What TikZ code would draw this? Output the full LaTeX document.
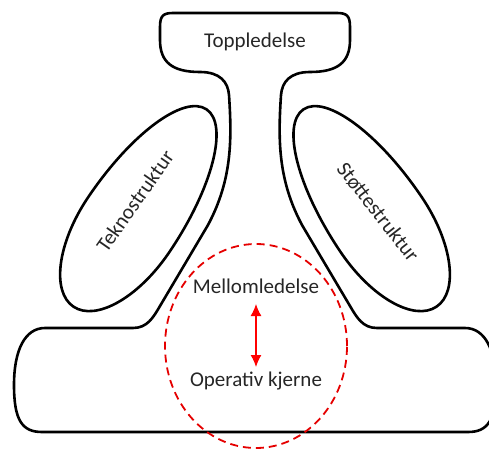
\documentclass[tikz,border=0pt]{standalone}
\usepackage{fontspec}
\setmainfont{Carlito}
\usepackage{xcolor}
\usetikzlibrary{arrows.meta}

\begin{document}
\begin{tikzpicture}[
    x=1pt, y=-1pt,
    font=\fontsize{21}{25}\selectfont,
    outline/.style={draw=black, line width=2.6pt, line join=round},
    part/.style={text=black!85, inner sep=0pt},
    zone/.style={draw=red!90!black, line width=1.8pt, dash pattern=on 8pt off 5pt},
    link/.style={{Latex[length=12pt,width=11pt]}-{Latex[length=12pt,width=11pt]}, draw=red, line width=1.3pt}
]

\useasboundingbox (0,0) rectangle (489,449);
\clip (0,0) rectangle (489,449);

% =========================================================
% Outline: apex, neck and operating base
% =========================================================
\draw[outline] (160,27) .. controls (160,16) and (163,13) .. (173,13)
    -- (337,13) .. controls (347,13) and (350,16) .. (350,27)
    -- (350,40) .. controls (350,62) and (338,72) .. (310,72)
    .. controls (290,72) and (282,82) .. (281,95)
    .. controls (278,140) and (278,180) .. (302,225)
    -- (350,306) .. controls (357,318) and (363,328) .. (377,328)
    -- (465,328) .. controls (485,328) and (496,350) .. (496,385)
    .. controls (496,420) and (488,432) .. (468,432)
    -- (42,432) .. controls (22,432) and (14,420) .. (14,385)
    .. controls (14,350) and (25,328) .. (45,328)
    -- (133,328) .. controls (147,328) and (153,318) .. (160,306)
    -- (208,225) .. controls (232,180) and (232,140) .. (229,95)
    .. controls (228,82) and (220,72) .. (200,72)
    .. controls (172,72) and (160,62) .. (160,40) -- cycle;

% Staff parts (egg shapes)
\foreach \cx/\ang in {140/56, 370/124} {
    \begin{scope}[shift={(\cx,208)}, rotate=\ang]
        \draw[outline] (-119,0) .. controls (-119,27) and (-75,49) .. (-20,49)
            .. controls (57,49) and (119,27) .. (119,0)
            .. controls (119,-27) and (57,-49) .. (-20,-49)
            .. controls (-75,-49) and (-119,-27) .. (-119,0) -- cycle;
    \end{scope}
}

% =========================================================
% Labels
% =========================================================
\node[part, anchor=base] (top) at (255,48) {Toppledelse};
\node[part, rotate=55] (tekno) at (135,201) {Teknostruktur};
\node[part, rotate=-52] (stotte) at (378,212) {Støttestruktur};
\node[part, anchor=base] (mellom) at (256,293) {Mellomledelse};
\node[part, anchor=base] (kjerne) at (256,386) {Operativ kjerne};

% Middle line marker
\draw[zone] (256,346) ellipse [x radius=91pt, y radius=102pt];

\coordinate (up) at (256,304);
\coordinate (down) at (256,367);
\draw[link] (up) -- (down);

\end{tikzpicture}
\end{document}
